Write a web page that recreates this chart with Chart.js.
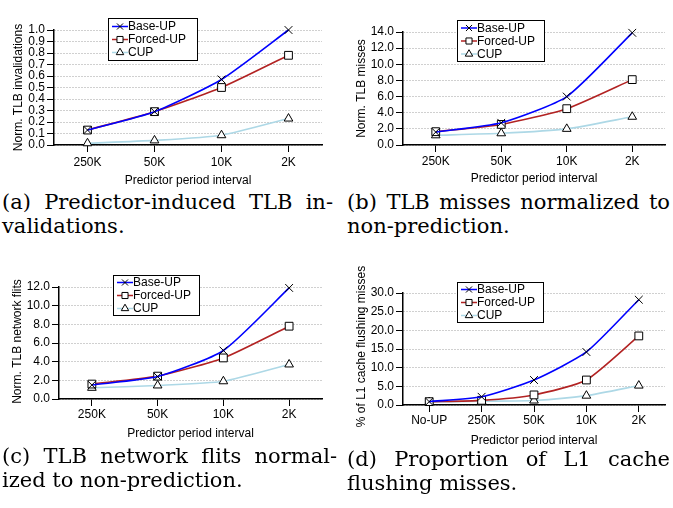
<!DOCTYPE html>
<html><head><meta charset="utf-8">
<script src="https://cdn.jsdelivr.net/npm/chart.js@4.4.1/dist/chart.umd.min.js"></script>
<style>
html,body{margin:0;padding:0;background:#fff;}
body{width:673px;height:508px;position:relative;overflow:hidden;}
canvas{position:absolute;}
.cap{position:absolute;font-family:"DejaVu Serif",serif;font-size:21px;line-height:23.5px;color:#000;}
.cap .l1{text-align:justify;text-align-last:justify;}
</style>
</head><body>
<canvas id="ca"></canvas><canvas id="cb"></canvas><canvas id="cc"></canvas><canvas id="cd"></canvas>
<div class="cap" style="left:2px;top:191px;width:331px;"><div class="l1">(a) Predictor-induced TLB in-</div><div>validations.</div></div>
<div class="cap" style="left:347px;top:191px;width:323px;"><div class="l1">(b) TLB misses normalized to</div><div>non-prediction.</div></div>
<div class="cap" style="left:2px;top:445px;width:335px;"><div class="l1">(c) TLB network flits normal-</div><div>ized to non-prediction.</div></div>
<div class="cap" style="left:347px;top:448px;width:323px;"><div class="l1">(d) Proportion of L1 cache</div><div>flushing misses.</div></div>
<script>
// ---- data ----
const SERIES_NAMES = ['Base-UP', 'Forced-UP', 'CUP'];
const PERIODS = ['250K', '50K', '10K', '2K'];
const PERIODS_D = ['No-UP', '250K', '50K', '10K', '2K'];
const X_TITLE = 'Predictor period interval';

const invBase   = [0.13, 0.29, 0.57, 1.0];
const invForced = [0.13, 0.29, 0.50, 0.78];
const invCup    = [0.015, 0.04, 0.085, 0.23];

const missBase   = [1.6, 2.75, 6.0, 13.9];
const missForced = [1.65, 2.55, 4.5, 8.1];
const missCup    = [1.2, 1.45, 2.0, 3.5];

const flitBase   = [1.5, 2.4, 5.2, 11.9];
const flitForced = [1.6, 2.45, 4.4, 7.8];
const flitCup    = [1.2, 1.45, 1.9, 3.7];

const flushBase   = [0.9, 2.2, 6.7, 14.2, 28.2];
const flushForced = [0.9, 1.25, 2.7, 6.7, 18.5];
const flushCup    = [0.8, 1.0, 1.2, 2.5, 5.2];

const Y_MAX  = [1.0, 14, 12, 30];
const Y_STEP = [0.1, 2, 2, 5];
const Y_TITLES = ['Norm. TLB invalidations', 'Norm. TLB misses', 'Norm. TLB network flits', '% of L1 cache flushing misses'];

// ---- style ----
const FONT = '"Liberation Sans", Arial, Helvetica, sans-serif';
const COLORS = ['#0000ff', '#b22222', '#add8e6'];
const STYLES = ['crossRot', 'rect', 'triangle'];
const RADII = [5.5, 5.5, 5];

function marker(ctx, style, x, y, r) {
  ctx.save();
  ctx.strokeStyle = '#000'; ctx.fillStyle = '#fff'; ctx.lineWidth = 1;
  ctx.beginPath();
  if (style === 'crossRot') {
    const d = r * Math.SQRT1_2;
    ctx.moveTo(x - d, y - d); ctx.lineTo(x + d, y + d);
    ctx.moveTo(x - d, y + d); ctx.lineTo(x + d, y - d);
    ctx.stroke();
  } else if (style === 'rect') {
    const d = r * Math.SQRT1_2;
    ctx.rect(x - d, y - d, 2 * d, 2 * d); ctx.fill(); ctx.stroke();
  } else {
    ctx.moveTo(x, y - r);
    ctx.lineTo(x + r * 0.866, y + r * 0.5);
    ctx.lineTo(x - r * 0.866, y + r * 0.5);
    ctx.closePath(); ctx.fill(); ctx.stroke();
  }
  ctx.restore();
}

const boxLegend = {
  id: 'boxLegend',
  afterDraw(chart, args, o) {
    const ctx = chart.ctx;
    ctx.save();
    ctx.fillStyle = '#fff';
    ctx.fillRect(o.x, o.y, o.w, o.h);
    ctx.strokeStyle = '#000'; ctx.lineWidth = 1;
    ctx.strokeRect(o.x + 0.5, o.y + 0.5, o.w, o.h);
    const sp = 13;
    const first = o.y + o.h / 2 - sp + 0.5;
    chart.data.datasets.forEach((ds, i) => {
      const cy = first + i * sp;
      ctx.strokeStyle = ds.borderColor; ctx.lineWidth = 1.5;
      ctx.beginPath(); ctx.moveTo(o.x + 4, cy); ctx.lineTo(o.x + 20, cy); ctx.stroke();
      marker(ctx, ds.pointStyle, o.x + 12, cy, 4.3);
      ctx.fillStyle = '#000';
      ctx.font = '12px ' + FONT;
      ctx.textBaseline = 'middle'; ctx.textAlign = 'left';
      ctx.fillText(ds.label, o.x + 20, cy + 0.5);
    });
    ctx.restore();
  }
};

// vertical axis title drawn without width compression
const yTitle = {
  id: 'yTitle',
  afterDraw(chart, args, o) {
    const ctx = chart.ctx, a = chart.chartArea;
    ctx.save();
    ctx.translate(o.x, (a.top + a.bottom) / 2 + (o.dy || 0));
    ctx.rotate(-Math.PI / 2);
    ctx.fillStyle = '#000';
    ctx.font = '12px ' + FONT;
    ctx.textAlign = 'center'; ctx.textBaseline = 'middle';
    ctx.fillText(o.text, 0, 0);
    ctx.restore();
  }
};

function makeChart(id, geo, labels, values, yMax, yStep, yTitleText) {
  const cv = document.getElementById(id);
  cv.width = geo.w; cv.height = geo.h;
  cv.style.left = geo.left + 'px'; cv.style.top = geo.top + 'px';
  new Chart(cv, {
    type: 'line',
    data: {
      labels: labels,
      datasets: values.map((v, i) => ({
        label: SERIES_NAMES[i], data: v,
        borderColor: COLORS[i], borderWidth: 1.6,
        pointStyle: STYLES[i], pointRadius: RADII[i],
        pointBorderColor: '#000', pointBackgroundColor: '#fff', pointBorderWidth: 1,
        tension: 0.2, clip: false, fill: false
      }))
    },
    options: {
      responsive: false, animation: false, events: [],
      layout: { padding: { top: geo.padTop, right: geo.padRight, left: 0, bottom: 0 } },
      plugins: { legend: { display: false }, tooltip: { enabled: false }, boxLegend: geo.legend,
        yTitle: { text: yTitleText, x: geo.yTitleX, dy: geo.yTitleDy } },
      scales: {
        x: {
          type: 'category', offset: true,
          grid: { display: true, drawOnChartArea: false, drawTicks: true, tickLength: 7, tickColor: '#000', tickWidth: 1, offset: false },
          border: { display: true, color: '#000', width: 1.5 },
          ticks: { color: '#000', font: { family: FONT, size: 12 }, padding: geo.xPad, maxRotation: 0, autoSkip: false },
          title: { display: true, text: X_TITLE, color: '#000', font: { family: FONT, size: 12 }, padding: { top: 0, bottom: geo.xTitlePad } },
          afterFit(s) { s.height = geo.xH; }
        },
        y: {
          min: 0, max: yMax,
          ticks: { stepSize: yStep, autoSkip: false, color: '#000', font: { family: FONT, size: 12 }, padding: 2, callback: v => Number(v).toFixed(1) },
          grid: { color: '#a0a0a0', lineWidth: 1, tickLength: 7, tickColor: '#000', tickWidth: 1 },
          border: { display: true, color: '#000', width: 1.5, dash: [1, 2] },
          title: { display: false },
          afterFit(s) { s.width = geo.yW; }
        }
      }
    },
    plugins: [boxLegend, yTitle]
  });
}

makeChart('ca', { left: 0, top: 0, w: 336, h: 190, padTop: 30, padRight: 14, yW: 54, xH: 45, xPad: 3, xTitlePad: 2, yTitleX: 18.5, yTitleDy: 0,
  legend: { x: 108, y: 18, w: 89, h: 42 } }, PERIODS, [invBase, invForced, invCup], Y_MAX[0], Y_STEP[0], Y_TITLES[0]);
makeChart('cb', { left: 336, top: 0, w: 337, h: 190, padTop: 32, padRight: 8, yW: 67, xH: 45, xPad: 2.5, xTitlePad: 4, yTitleX: 25.5, yTitleDy: 0,
  legend: { x: 121, y: 20, w: 87, h: 41 } }, PERIODS, [missBase, missForced, missCup], Y_MAX[1], Y_STEP[1], Y_TITLES[1]);
makeChart('cc', { left: 0, top: 250, w: 336, h: 194, padTop: 37, padRight: 14, yW: 59, xH: 45, xPad: 1, xTitlePad: 3, yTitleX: 18, yTitleDy: -1.5,
  legend: { x: 113, y: 25, w: 86, h: 40 } }, PERIODS, [flitBase, flitForced, flitCup], Y_MAX[2], Y_STEP[2], Y_TITLES[2]);
makeChart('cd', { left: 336, top: 250, w: 337, h: 200, padTop: 43, padRight: 8, yW: 67, xH: 45, xPad: 1.5, xTitlePad: 2, yTitleX: 26, yTitleDy: -2.5,
  legend: { x: 121, y: 32, w: 86, h: 40 } }, PERIODS_D, [flushBase, flushForced, flushCup], Y_MAX[3], Y_STEP[3], Y_TITLES[3]);
</script>
</body></html>
